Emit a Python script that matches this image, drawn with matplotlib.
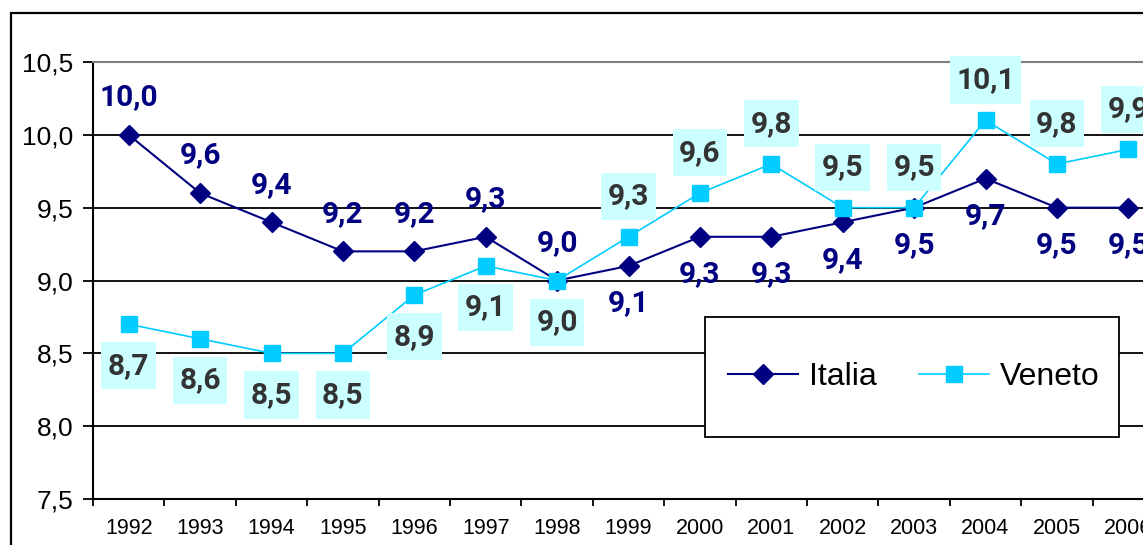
import matplotlib
matplotlib.use("Agg")
import matplotlib.pyplot as plt
from matplotlib.patches import Rectangle
from matplotlib.path import Path

anni = ["1992", "1993", "1994", "1995", "1996", "1997", "1998", "1999",
        "2000", "2001", "2002", "2003", "2004", "2005", "2006"]
italia = [10.0, 9.6, 9.4, 9.2, 9.2, 9.3, 9.0, 9.1, 9.3, 9.3, 9.4, 9.5, 9.7, 9.5, 9.5]
veneto = [8.7, 8.6, 8.5, 8.5, 8.9, 9.1, 9.0, 9.3, 9.6, 9.8, 9.5, 9.5, 10.1, 9.8, 9.9]
yticks = [7.5, 8.0, 8.5, 9.0, 9.5, 10.0, 10.5]

# label side: +1 above, -1 below
lato_it = [1, 1, 1, 1, 1, 1, 1, -1, -1, -1, -1, -1, -1, -1, -1]
lato_ve = [-1, -1, -1, -1, -1, -1, -1, 1, 1, 1, 1, 1, 1, 1, 1]

NAVY = "#000080"
CYAN = "#00CCFF"

def virgola(v):
    return f"{v:.1f}".replace(".", ",")

def box_label(x0, y0, width, height, mutation_size):
    # excel-like label box
    px, py = 0.22 * mutation_size, 0.32 * mutation_size
    x0, y0 = x0 - px, y0 - py
    x1, y1 = x0 + width + 2 * px, y0 + height + 2 * py
    return Path([(x0, y0), (x1, y0), (x1, y1), (x0, y1), (x0, y0)], closed=True)

W, H = 1143, 545
fig = plt.figure(figsize=(W / 100, H / 100), dpi=100)
ax = fig.add_axes([93 / W, 46 / H, 1071 / W, 437 / H])

x = list(range(len(anni)))
ax.plot(x, italia, color=NAVY, lw=1.5, marker="D", ms=10, mec=NAVY, mfc=NAVY,
        label="Italia", zorder=3)
ax.plot(x, veneto, color=CYAN, lw=1.2, marker="s", ms=11.5, mec=CYAN, mfc=CYAN,
        label="Veneto", zorder=3)

for i, v in enumerate(italia):
    ax.annotate(virgola(v), (i, v), xytext=(0, 27 * lato_it[i]), textcoords="offset points",
                ha="center", va="center", fontsize=21.5, fontweight="bold",
                color=NAVY, family="Roboto", zorder=4)
for i, v in enumerate(veneto):
    off = 29 if lato_ve[i] > 0 else -30
    ax.annotate(virgola(v), (i, v), xytext=(0, off), textcoords="offset points",
                ha="center", va="center", fontsize=21.5, fontweight="bold",
                color="#333333", family="Roboto", zorder=4,
                bbox=dict(boxstyle=box_label, fc="#CCFFFF", ec="none"))

ax.set_xlim(-0.5, len(anni) - 0.5)
ax.set_ylim(7.5, 10.5)
ax.set_yticks(yticks)
ax.set_yticklabels([virgola(t) for t in yticks], fontsize=19, family="Liberation Sans")
ax.set_xticks(x)
ax.set_xticklabels(anni, fontsize=15.5, family="Liberation Sans")
ax.set_xticks([i - 0.5 for i in range(len(anni) + 1)], minor=True)
ax.tick_params(axis="x", which="major", length=0, pad=14)
ax.tick_params(axis="x", which="minor", length=5, width=1.3, direction="out")
ax.tick_params(axis="y", length=7, width=1.3, direction="out", pad=7)

for t in yticks[1:-1]:
    ax.axhline(t, color="black", lw=1.3, zorder=1)

ax.spines["top"].set_color("#808080")
ax.spines["top"].set_linewidth(1.5)
ax.spines["right"].set_visible(False)
ax.spines["left"].set_linewidth(1.5)
ax.spines["bottom"].set_linewidth(1.5)

# legend box
ax.add_patch(Rectangle((705 / W, 1 - 437 / H), 414 / W, 120 / H, transform=fig.transFigure,
                       fc="white", ec="black", lw=1.3, zorder=5, clip_on=False))
leg = ax.legend(loc="center", bbox_to_anchor=(914 / W, 1 - 377 / H),
                bbox_transform=fig.transFigure, ncol=2, frameon=False,
                prop={"family": "Liberation Sans", "size": 23},
                handlelength=2.2, handletextpad=0.35, columnspacing=1.3)
leg.set_zorder(6)

# outer chart frame
fig.patches.append(Rectangle((11 / W, -0.5), 2, 1 - 13 / H + 0.5, transform=fig.transFigure,
                             fill=False, ec="black", lw=1.6, figure=fig))

fig.savefig("out.png", dpi=100)
